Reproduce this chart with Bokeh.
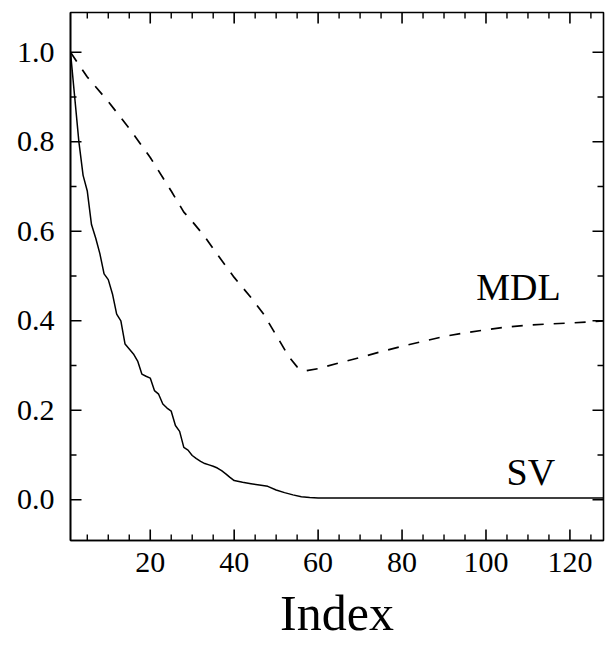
import math
from bokeh.plotting import figure
from bokeh.models import Range1d, LinearAxis, SingleIntervalTicker, PrintfTickFormatter
from bokeh.core.properties import value
from bokeh.embed import file_html
from bokeh.resources import INLINE

# ---- data ----
sv_index = [1, 2, 3, 4, 5, 6, 7, 8, 9, 10, 11, 12, 13, 14, 15, 16, 17, 18, 19, 20,
            21, 22, 23, 24, 25, 26, 27, 28, 29, 30, 31, 32, 33, 34, 35, 36, 37, 38, 39, 40,
            42, 44, 46, 48, 50, 52, 54, 56, 58, 60, 70, 80, 90, 100, 110, 120, 128]
sv_value = [1.0, 0.90, 0.80, 0.725, 0.69, 0.615, 0.585, 0.55, 0.505, 0.492,
            0.46, 0.415, 0.40, 0.348, 0.337, 0.326, 0.31, 0.281, 0.276, 0.272,
            0.244, 0.236, 0.214, 0.205, 0.198, 0.166, 0.153, 0.117, 0.111, 0.099,
            0.092, 0.086, 0.081, 0.078, 0.075, 0.071, 0.065, 0.058, 0.050, 0.043,
            0.039, 0.036, 0.033, 0.030, 0.022, 0.016, 0.011, 0.007, 0.005, 0.004,
            0.004, 0.004, 0.004, 0.004, 0.004, 0.004, 0.004]

mdl_index = [1, 5, 10, 15, 20, 25, 28, 30, 33, 36, 40, 44, 47, 50, 53, 55, 57,
             60, 65, 70, 75, 80, 85, 90, 95, 100, 105, 110, 115, 120, 125, 128]
mdl_value = [1.0, 0.945, 0.89, 0.83, 0.765, 0.69, 0.643, 0.622, 0.588, 0.548, 0.497,
             0.452, 0.415, 0.368, 0.32, 0.297, 0.288,
             0.293, 0.306, 0.318, 0.331, 0.343, 0.354, 0.365, 0.373, 0.380, 0.386,
             0.390, 0.393, 0.395, 0.398, 0.400]

labels = ["MDL", "SV"]
label_x = [97.7, 104.9]
label_y = [0.475, 0.063]

x_title = "Index"

# tick values (major / minor)
x_major = [20, 40, 60, 80, 100, 120]
x_minor = [5, 10, 15, 25, 30, 35, 45, 50, 55, 65, 70, 75, 85, 90, 95,
           105, 110, 115, 125]
y_major = [0.0, 0.2, 0.4, 0.6, 0.8, 1.0]
y_minor = [0.1, 0.3, 0.5, 0.7, 0.9]

X0, X1 = 1, 128
Y0, Y1 = -0.091, 1.089

FONT = "Liberation Serif"

p = figure(width=613, height=646, output_backend="svg", toolbar_location=None,
           x_range=Range1d(X0, X1), y_range=Range1d(Y0, Y1),
           min_border_left=70, min_border_right=10, min_border_top=12, min_border_bottom=106,
           x_axis_location=None, y_axis_location=None)
p.grid.visible = False
p.background_fill_color = "white"
p.border_fill_color = "white"
p.outline_line_color = "black"
p.outline_line_width = 1.6

def style_axis(ax, show_labels):
    ax.axis_line_color = "black"
    ax.axis_line_width = 1.6
    ax.major_tick_in = 0
    ax.major_tick_out = 0
    ax.minor_tick_in = 0
    ax.minor_tick_out = 0
    ax.major_label_text_font = FONT
    if show_labels:
        ax.major_label_text_color = "black"
        ax.major_label_text_font_size = "30px"
    else:
        ax.major_label_text_color = None
        ax.major_label_text_font_size = "0px"
        ax.major_label_standoff = 0

xb = LinearAxis(ticker=SingleIntervalTicker(interval=20, num_minor_ticks=4))
style_axis(xb, True)
xb.major_label_standoff = 12
xb.axis_label = x_title
xb.axis_label_text_font = FONT
xb.axis_label_text_font_size = "50px"
xb.axis_label_text_font_style = "normal"
xb.axis_label_text_color = "black"
xb.axis_label_standoff = 10
p.add_layout(xb, "below")

yl = LinearAxis(ticker=SingleIntervalTicker(interval=0.2, num_minor_ticks=2),
                formatter=PrintfTickFormatter(format="%.1f"))
style_axis(yl, True)
yl.major_label_standoff = 16
p.add_layout(yl, "left")

# inward tick marks on all four sides (half of each dash is clipped by the frame)
MAJ, MIN = 22, 12
for xs, sz, w in ((x_major, MAJ, 1.6), (x_minor, MIN, 1.4)):
    for yedge in (Y0, Y1):
        p.scatter(x=xs, y=[yedge] * len(xs), marker="dash", size=sz,
                  angle=math.pi / 2, line_color="black", line_width=w)
for ys, sz, w in ((y_major, MAJ, 1.6), (y_minor, MIN, 1.4)):
    for xedge in (X0, X1):
        p.scatter(x=[xedge] * len(ys), y=ys, marker="dash", size=sz,
                  line_color="black", line_width=w)

p.line(mdl_index, mdl_value, line_color="black", line_width=1.7, line_dash="11 10")
p.line(sv_index, sv_value, line_color="black", line_width=1.5)

p.text(x=label_x, y=label_y, text=labels, text_font=value(FONT),
       text_font_size="38px", text_align="left", text_baseline="alphabetic",
       text_color="black")

open("out.html", "w").write(file_html(p, INLINE))
